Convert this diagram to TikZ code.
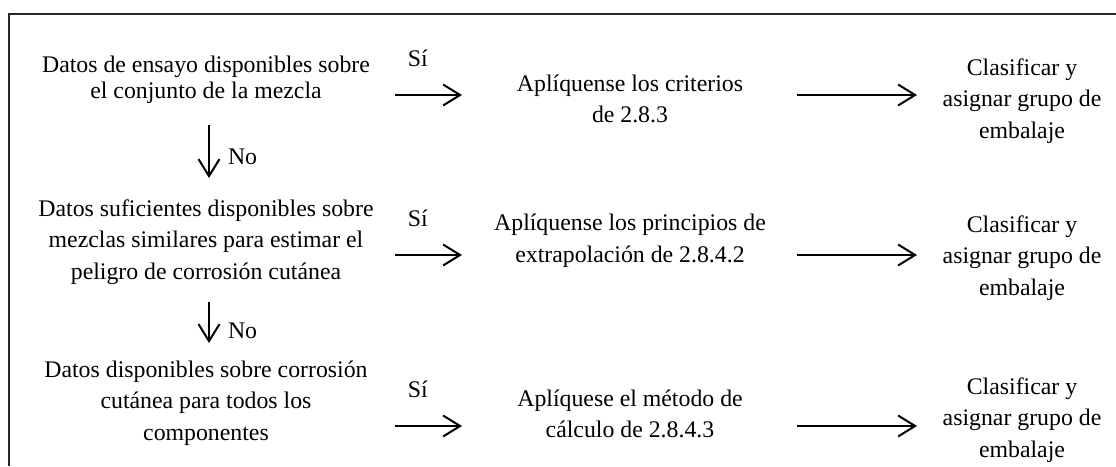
\documentclass[tikz,border=0pt]{standalone}
\usepackage{fontspec}
\setmainfont{Liberation Serif}
\usetikzlibrary{arrows.meta}

\tikzset{
  txt/.style={align=center, inner sep=0pt, font=\fontsize{23.8}{31.5}\selectfont},
  flecha/.style={-{Straight Barb[length=17pt,width=21pt]}, line width=2pt},
  marco/.style={line width=2pt, black!85},
  etiq/.style={inner sep=0pt, font=\fontsize{23.8}{28}\selectfont},
}

\begin{document}
\begin{tikzpicture}[x=1pt, y=-1pt]
  \useasboundingbox (0,0) rectangle (1116,466);
  \draw[marco] (9,466) -- (9,14) -- (1116,14);

  % left column
  \node[txt, font=\fontsize{23.8}{25.5}\selectfont] (datos1) at (206,80) {Datos de ensayo disponibles sobre\\el conjunto de la mezcla};
  \node[txt] (datos2) at (206,242) {Datos suficientes disponibles sobre\\mezclas similares para estimar el\\peligro de corrosión cutánea};
  \node[txt] (datos3) at (206,403) {Datos disponibles sobre corrosión\\cutánea para todos los\\componentes};

  % middle column
  \node[txt] (apl1) at (630,99) {Aplíquense los criterios\\de 2.8.3};
  \node[txt] (apl2) at (630,241) {Aplíquense los principios de\\extrapolación de 2.8.4.2};
  \node[txt] (apl3) at (630,414) {Aplíquese el método de\\cálculo de 2.8.4.3};

  % right column
  \node[txt] (clas1) at (1022,101) {Clasificar y\\asignar grupo de\\embalaje};
  \node[txt] (clas2) at (1022,258) {Clasificar y\\asignar grupo de\\embalaje};
  \node[txt] (clas3) at (1022,420) {Clasificar y\\asignar grupo de\\embalaje};

  % arrow ends
  \coordinate (si1a) at (395,95);  \coordinate (si1b) at (462,95);
  \coordinate (si2a) at (395,255); \coordinate (si2b) at (462,255);
  \coordinate (si3a) at (395,426); \coordinate (si3b) at (462,426);
  \coordinate (cl1a) at (797,95);  \coordinate (cl1b) at (917,95);
  \coordinate (cl2a) at (797,255); \coordinate (cl2b) at (917,255);
  \coordinate (cl3a) at (797,426); \coordinate (cl3b) at (917,426);
  \coordinate (no1a) at (209,125); \coordinate (no1b) at (209,178);
  \coordinate (no2a) at (209,302); \coordinate (no2b) at (209,343);

  \draw[flecha] (si1a) -- node[etiq, pos=0.34, yshift=37pt] {Sí} (si1b);
  \draw[flecha] (si2a) -- node[etiq, pos=0.34, yshift=37pt] {Sí} (si2b);
  \draw[flecha] (si3a) -- node[etiq, pos=0.34, yshift=37pt] {Sí} (si3b);
  \draw[flecha] (cl1a) -- (cl1b);
  \draw[flecha] (cl2a) -- (cl2b);
  \draw[flecha] (cl3a) -- (cl3b);
  \draw[flecha] (no1a) -- node[etiq, anchor=west, pos=0.6, xshift=18pt] {No} (no1b);
  \draw[flecha] (no2a) -- node[etiq, anchor=west, pos=0.7, xshift=18pt] {No} (no2b);
\end{tikzpicture}
\end{document}
